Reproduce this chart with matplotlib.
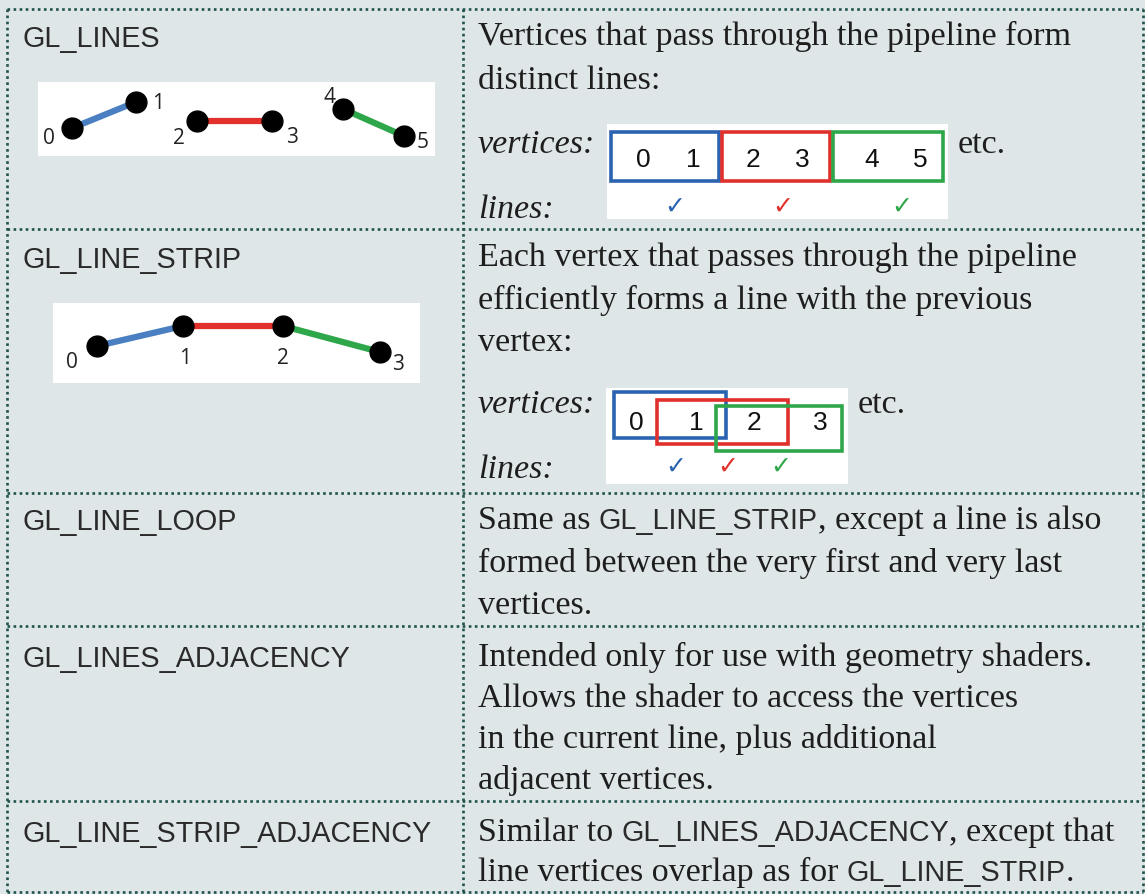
import matplotlib
matplotlib.use("Agg")
import matplotlib.pyplot as plt
from matplotlib.patches import Rectangle

# ---------------------------------------------------------------
# table layout (pixel coordinates of the picture)
# ---------------------------------------------------------------
ROW_EDGES = [10, 230, 494, 627, 802, 893]
COL_EDGES = [7, 463, 1143]

NAMES = ["GL_LINES", "GL_LINE_STRIP", "GL_LINE_LOOP",
         "GL_LINES_ADJACENCY", "GL_LINE_STRIP_ADJACENCY"]
NAME_BASELINES = [47, 268, 530, 667, 842]

# description text: each line is a list of runs (text, font kind)
DESCRIPTIONS = [
    [[("Vertices that pass through the pipeline form", "serif")],
     [("distinct lines:", "serif")]],
    [[("Each vertex that passes through the pipeline", "serif")],
     [("efficiently forms a line with the previous", "serif")],
     [("vertex:", "serif")]],
    [[("Same as", "serif"), (" GL_LINE_STRIP", "sans"),
      (", except a line is also", "serif")],
     [("formed between the very first and very last", "serif")],
     [("vertices.", "serif")]],
    [[("Intended only for use with geometry shaders.", "serif")],
     [("Allows the shader to access the vertices", "serif")],
     [("in the current line, plus additional", "serif")],
     [("adjacent vertices.", "serif")]],
    [[("Similar to", "serif"), (" GL_LINES_ADJACENCY", "sans"),
      (", except that", "serif")],
     [("line vertices overlap as for", "serif"), (" GL_LINE_STRIP", "sans"),
      (".", "serif")]],
]
DESC_BASELINES = [
    [45, 89],
    [266, 309, 351],
    [529, 572, 614],
    [666, 707, 748, 789],
    [841, 881],
]

# GL_LINES diagram
LINES_VX = [72, 136, 197, 272, 343, 404]
LINES_VY = [129, 103, 122, 122, 110, 137]
LINES_LABEL_X = [49, 158, 179, 292, 330, 423]
LINES_LABEL_Y = [138, 103, 138, 137, 97, 142]

# GL_LINE_STRIP diagram
STRIP_VX = [97, 183, 283, 380]
STRIP_VY = [347, 327, 327, 353]
STRIP_LABEL_X = [72, 185, 283, 398]
STRIP_LABEL_Y = [362, 358, 358, 364]

# vertex boxes (x0, x1, y0, y1)
LINES_BOXES = [(611, 719, 133, 182), (722, 830, 133, 182), (833, 943, 133, 182)]
LINES_DIGIT_X = [643, 693, 753, 802, 872, 920]
LINES_CHECK_X = [675, 783, 902]
STRIP_BOXES = [(614, 726, 393, 439), (657, 788, 401, 445), (716, 842, 407, 452)]
STRIP_DIGIT_X = [636, 696, 754, 820]
STRIP_CHECK_X = [676, 728, 781]

SEG_COLORS = ["#4a7fc1", "#e2302c", "#2ea64a"]
BOX_COLORS = ["#2b63b0", "#e0302c", "#2ea64a"]
BG = "#dfe6e8"
BORDER = "#1f524b"
INK = "#1e1e1e"

SERIF = ["Liberation Serif", "DejaVu Serif"]
SANS = ["Liberation Sans", "DejaVu Sans"]
LABEL_FONT = ["Open Sans", "DejaVu Sans"]
FAMILIES = {"serif": SERIF, "sans": SANS}
SIZES = {"serif": 24.5, "sans": 20.7}
COLORS = {"serif": INK, "sans": "#2a2a2a"}

fig = plt.figure(figsize=(11.45, 8.95), dpi=100)
fig.patch.set_facecolor(BG)
ax = fig.add_axes([0, 0, 1, 1])
ax.set_xlim(0, 1145)
ax.set_ylim(895, 0)
ax.axis("off")
renderer = fig.canvas.get_renderer()

# dotted grid
dots = dict(color=BORDER, lw=1.9, linestyle=(0, (1, 1.3)), solid_capstyle="butt")
for y in ROW_EDGES:
    ax.plot([COL_EDGES[0], COL_EDGES[-1]], [y, y], **dots)
for x in COL_EDGES:
    ax.plot([x, x], [ROW_EDGES[0], ROW_EDGES[-1]], **dots)

# left column names
for name, yb in zip(NAMES, NAME_BASELINES):
    ax.text(22, yb, name, family=SANS, fontsize=SIZES["sans"], color=COLORS["sans"],
            va="baseline", ha="left")

# right column text
a = ax.text(0, 0, "a a", family=SERIF, fontsize=SIZES["serif"])
b = ax.text(0, 0, "aa", family=SERIF, fontsize=SIZES["serif"])
space_w = a.get_window_extent(renderer).width - b.get_window_extent(renderer).width
a.remove()
b.remove()


def draw_runs(x, y, runs):
    for txt, kind in runs:
        if txt.startswith(" "):
            x += space_w
            txt = txt.lstrip()
        t = ax.text(x, y, txt, family=FAMILIES[kind], fontsize=SIZES[kind],
                    color=COLORS[kind], va="baseline", ha="left")
        x += t.get_window_extent(renderer).width


for lines, baselines in zip(DESCRIPTIONS, DESC_BASELINES):
    for runs, yb in zip(lines, baselines):
        draw_runs(478, yb, runs)

# GL_LINES diagram
ax.add_patch(Rectangle((38, 83), 397, 74, facecolor="white", edgecolor="none"))
for i in range(3):
    ax.plot(LINES_VX[2 * i:2 * i + 2], LINES_VY[2 * i:2 * i + 2],
            color=SEG_COLORS[i], lw=4.5, solid_capstyle="butt", zorder=3)
ax.plot(LINES_VX, LINES_VY, "o", color="black", ms=15, ls="none", zorder=4)
for i, (lx, ly) in enumerate(zip(LINES_LABEL_X, LINES_LABEL_Y)):
    ax.text(lx, ly, str(i), family=LABEL_FONT, fontsize=15, color="#222222",
            ha="center", va="center")

# GL_LINE_STRIP diagram
ax.add_patch(Rectangle((53, 304), 367, 80, facecolor="white", edgecolor="none"))
for i in range(3):
    ax.plot(STRIP_VX[i:i + 2], STRIP_VY[i:i + 2],
            color=SEG_COLORS[i], lw=4.5, solid_capstyle="butt", zorder=3)
ax.plot(STRIP_VX, STRIP_VY, "o", color="black", ms=15, ls="none", zorder=4)
for i, (lx, ly) in enumerate(zip(STRIP_LABEL_X, STRIP_LABEL_Y)):
    ax.text(lx, ly, str(i), family=LABEL_FONT, fontsize=15, color="#222222",
            ha="center", va="center")

# vertex / line tables
ITAL = dict(family=SERIF, style="italic", fontsize=SIZES["serif"], color=INK,
            va="baseline")

# GL_LINES
ax.text(478, 153, "vertices:", **ITAL)
ax.text(478, 218, "lines:", **ITAL)
ax.add_patch(Rectangle((607, 125), 341, 95, facecolor="white", edgecolor="none"))
for (x0, x1, y0, y1), c in zip(LINES_BOXES, BOX_COLORS):
    ax.add_patch(Rectangle((x0, y0), x1 - x0, y1 - y0, facecolor="none",
                           edgecolor=c, lw=2.6, zorder=3))
for i, dx in enumerate(LINES_DIGIT_X):
    ax.text(dx, 160, str(i), family=SANS, fontsize=19, color="#111111",
            ha="center", va="center")
for cx, c in zip(LINES_CHECK_X, BOX_COLORS):
    ax.text(cx, 207, "\u2713", family=["DejaVu Sans"], fontsize=18, color=c,
            ha="center", va="center")
ax.text(958, 153, "etc.", family=SERIF, fontsize=SIZES["serif"], color=INK,
        va="baseline")

# GL_LINE_STRIP
ax.text(478, 413, "vertices:", **ITAL)
ax.text(478, 478, "lines:", **ITAL)
ax.add_patch(Rectangle((606, 389), 242, 96, facecolor="white", edgecolor="none"))
for (x0, x1, y0, y1), c in zip(STRIP_BOXES, BOX_COLORS):
    ax.add_patch(Rectangle((x0, y0), x1 - x0, y1 - y0, facecolor="none",
                           edgecolor=c, lw=2.6, zorder=3))
for i, dx in enumerate(STRIP_DIGIT_X):
    ax.text(dx, 423, str(i), family=SANS, fontsize=19, color="#111111",
            ha="center", va="center", zorder=4)
for cx, c in zip(STRIP_CHECK_X, BOX_COLORS):
    ax.text(cx, 467, "\u2713", family=["DejaVu Sans"], fontsize=18, color=c,
            ha="center", va="center")
ax.text(858, 413, "etc.", family=SERIF, fontsize=SIZES["serif"], color=INK,
        va="baseline")

fig.savefig("out.png", dpi=100, facecolor=BG)
